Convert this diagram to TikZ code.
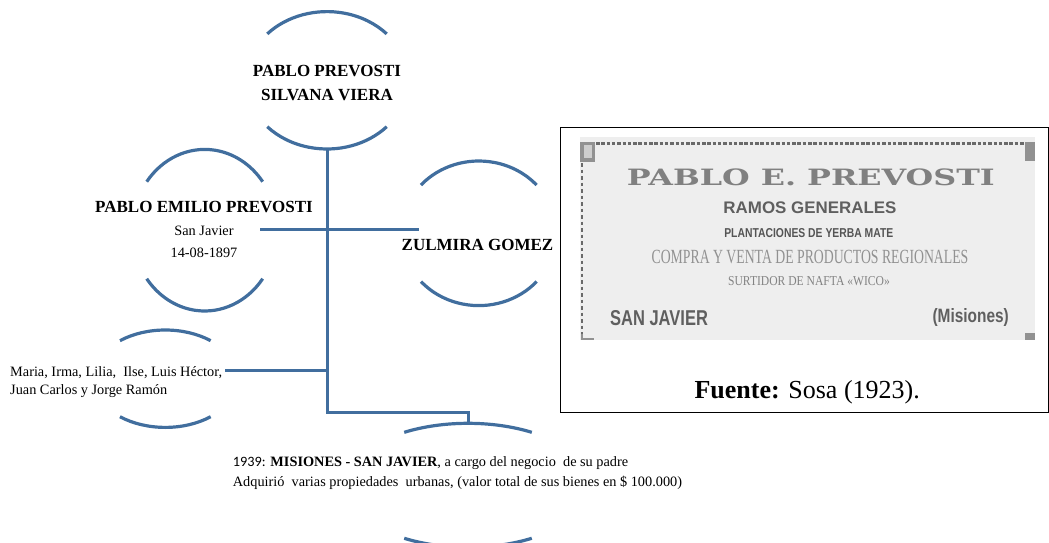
\documentclass[tikz,border=0pt]{standalone}
\usepackage{fontspec}
\setmainfont{Liberation Serif}
\newfontfamily\cardsans{Liberation Sans}
\newfontfamily\cardserif{DejaVu Serif}
\newfontfamily\calibfont{Carlito}
\usepackage{graphicx}
\usetikzlibrary{shapes.geometric}
\definecolor{linkblue}{RGB}{65,110,158}
\definecolor{cardbg}{RGB}{238,238,238}
\definecolor{cardink}{RGB}{105,105,105}
\definecolor{cardlight}{RGB}{145,145,145}
\newcommand\ovalarcs[4]{%
  \draw[arcline] (#1.center) ++({180+#4}:#2 and #3) arc[start angle={180+#4}, end angle={360-#4}, x radius=#2, y radius=#3];
  \draw[arcline] (#1.center) ++(#4:#2 and #3) arc[start angle=#4, end angle={180-#4}, x radius=#2, y radius=#3];}
\begin{document}
\begin{tikzpicture}[x=1pt,y=-1pt,
  oval/.style={ellipse, inner sep=0pt, outer sep=0pt},
  arcline/.style={draw=linkblue, line width=3.2pt},
  conn/.style={draw=linkblue, line width=3pt},
  nametext/.style={font=\bfseries\fontsize{17}{20}\selectfont, inner sep=0pt, anchor=base},
  smalltext/.style={font=\fontsize{14.3}{17}\selectfont, inner sep=0pt},
  cardtext/.style={inner sep=0pt, anchor=base}]
\useasboundingbox (0,0) rectangle (1049,543);

% oval shapes (invisible nodes) and their arcs
\node[oval, minimum width=162, minimum height=137.4] (top) at (327,80.3) {};
\node[oval, minimum width=145, minimum height=161.6] (emilio) at (204.7,230.2) {};
\node[oval, minimum width=155.4, minimum height=144.6] (zulmira) at (478.8,233.3) {};
\node[oval, minimum width=145, minimum height=97.4] (kids) at (165.3,378.7) {};
\node[oval, minimum width=245.6, minimum height=124] (mis) at (468,485.3) {};
\ovalarcs{top}{81}{68.7}{42.5}
\ovalarcs{emilio}{72.5}{80.8}{36.9}
\ovalarcs{zulmira}{77.7}{72.3}{41.9}
\ovalarcs{kids}{72.5}{48.7}{51.3}
\ovalarcs{mis}{122.8}{62}{58.7}

% connectors
\coordinate (elbow) at (468,412.7);
\coordinate (emR) at (260,229);
\coordinate (zuL) at (419,229);
\coordinate (kiR) at (225,370);
\draw[conn] (top.south) |- (elbow) -- (mis.north);
\draw[conn] (emR) -- (zuL);
\draw[conn] (kiR) -- (kiR -| top.south);

% texts
\node[nametext] (t1) at (327,76.7) {PABLO PREVOSTI};
\node[nametext] (t2) at (327,100.7) {SILVANA VIERA};
\node[nametext] (e1) at (204,212.7) {PABLO EMILIO PREVOSTI};
\node[smalltext, anchor=base] (e2) at (204,235.7) {San Javier};
\node[smalltext, anchor=base] (e3) at (204,257.3) {14-08-1897};
\node[nametext] (z1) at (477.5,250.7) {ZULMIRA GOMEZ};
\node[smalltext, anchor=base west] (k1) at (10,376) {Maria, Irma, Lilia,\ \ Ilse, Luis Héctor,};
\node[smalltext, anchor=base west] (k2) at (10,394) {Juan Carlos y Jorge Ramón};
\node[smalltext, anchor=base west] (m1) at (232.7,466) {{\calibfont 1939:} \textbf{MISIONES - SAN JAVIER}, a cargo del negocio\ \ de su padre};
\node[smalltext, anchor=base west] (m2) at (232.7,486) {Adquirió\ \ varias propiedades\ \ urbanas, (valor total de sus bienes en \$ 100.000)};

% source frame with card
\node[draw=black, line width=1.2pt, minimum width=488, minimum height=285, anchor=north west, inner sep=0pt] (frame) at (560,126.7) {};
\fill[cardbg] (580,137) rectangle (1035,340);
\draw[cardink, line width=3pt, dash pattern=on 3.5pt off 1.8pt] (596,143.5) -- (1024,143.5);
\draw[cardink, line width=2pt, dash pattern=on 3.5pt off 3pt] (581.5,163) -- (581.5,334);
\fill[cardlight] (580,141.5) rectangle (595,162);
\fill[cardbg!70!gray] (583.5,145) rectangle (591.5,158);
\fill[cardlight] (1025,141.5) rectangle (1035,161);
\fill[cardlight] (580.5,334) rectangle (583,340);
\fill[cardlight] (580.5,338) rectangle (594,340);
\fill[cardlight] (1025,333) rectangle (1035,340);

\node[cardtext, text=cardink!85] (c1) at (810.8,185) {\resizebox{368pt}{16.7pt}{\cardserif\bfseries PABLO E. PREVOSTI}};
\node[cardtext, text=cardink!90!black] (c2) at (810,213.3) {\resizebox{173pt}{11.7pt}{\cardsans\bfseries RAMOS GENERALES}};
\node[cardtext, text=cardink!80!black] (c3) at (808.8,237.3) {\resizebox{169pt}{9pt}{\cardsans\bfseries PLANTACIONES DE YERBA MATE}};
\node[cardtext, text=cardlight] (c4) at (810,263.3) {\resizebox{316.7pt}{13.3pt}{COMPRA Y VENTA DE PRODUCTOS REGIONALES}};
\node[cardtext, text=cardlight!90!black] (c5) at (809,285.7) {\resizebox{161.7pt}{9pt}{SURTIDOR DE NAFTA «WICO»}};
\node[cardtext, anchor=base west, text=cardink!90!black] (c6) at (610,325) {\resizebox{97.7pt}{15pt}{\cardsans\bfseries SAN JAVIER}};
\node[cardtext, anchor=base east, text=cardink!90!black] (c7) at (1009,322.7) {\resizebox{76.3pt}{14pt}{\cardsans\bfseries (Misiones)}};

\node[inner sep=0pt, anchor=base, font=\fontsize{26}{30}\selectfont] (src) at (807.2,398.3) {\textbf{Fuente:} Sosa (1923).};
\end{tikzpicture}
\end{document}
